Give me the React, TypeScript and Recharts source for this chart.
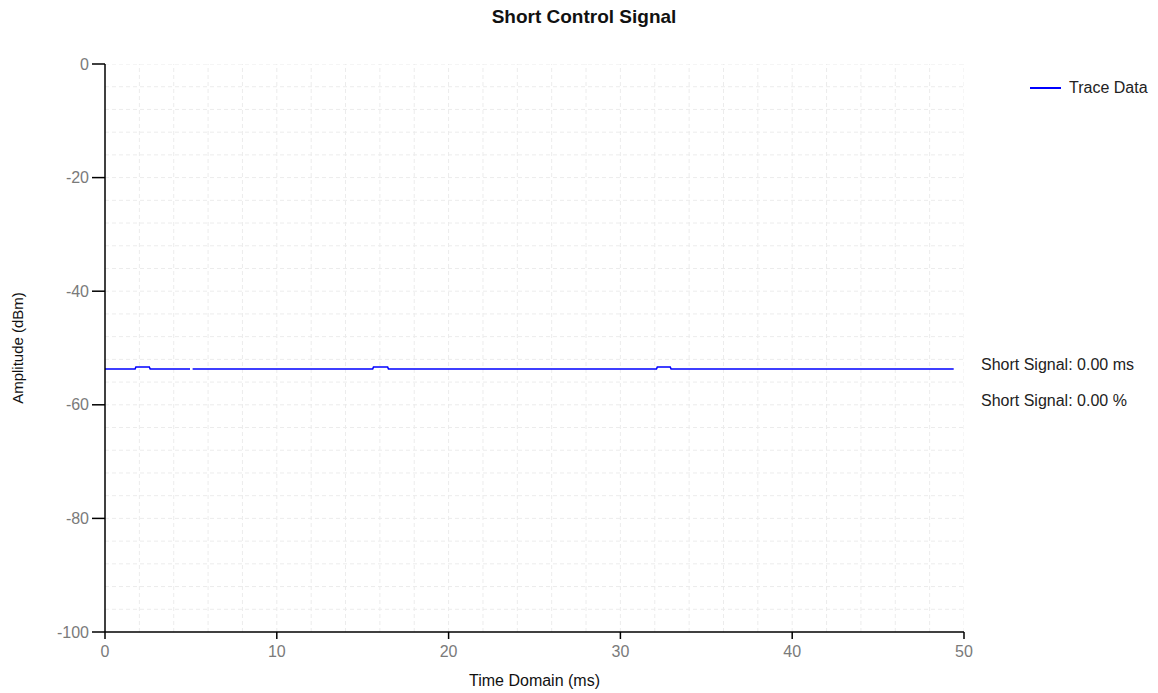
import React from 'react';
import {
  LineChart,
  Line,
  XAxis,
  YAxis,
  ReferenceLine
} from 'recharts';

// trace samples (ms, dBm); null = small gap in the trace
const TIME = [0, 1.75, 1.8, 2.58, 2.63, 4.95, 5.0, 5.1, 15.58, 15.63, 16.45, 16.5, 32.1, 32.15, 32.9, 32.95, 49.4];
const AMP: (number | null)[] = [
  -53.7, -53.7, -53.35, -53.35, -53.7, -53.7, null, -53.7,
  -53.7, -53.35, -53.35, -53.7, -53.7, -53.35, -53.35, -53.7, -53.7
];

const X_TICKS = [0, 10, 20, 30, 40, 50];
const Y_TICKS = [0, -20, -40, -60, -80, -100];
const X_GRID = [2, 4, 6, 8, 10, 12, 14, 16, 18, 20, 22, 24, 26, 28, 30, 32, 34, 36, 38, 40, 42, 44, 46, 48, 50];
const Y_GRID = [0, -4, -8, -12, -16, -20, -24, -28, -32, -36, -40, -44, -48, -52, -56, -60, -64, -68, -72, -76, -80, -84, -88, -92, -96];

const NOTES = ['Short Signal: 0.00 ms', 'Short Signal: 0.00 %'];

const DATA = TIME.map((t, i) => ({ t, amp: AMP[i] }));

const FONT = '"Liberation Sans", Arial, sans-serif';
const TICK_STYLE = { fill: '#7a7a7a', fontSize: 16, fontFamily: FONT };

const App: React.FC = () => {
  return (
    <div style={{ position: 'absolute', left: 0, top: 0, width: 1158, height: 693, background: '#fff', fontFamily: FONT }}>
      <div style={{ position: 'absolute', top: 6, left: 0, width: 1168, textAlign: 'center', fontWeight: 'bold', fontSize: 19, color: '#111' }}>
        Short Control Signal
      </div>

      <LineChart width={1158} height={693} data={DATA} margin={{ top: 64, right: 194, left: 45, bottom: 21 }}>
        {X_GRID.map((v) => (
          <ReferenceLine key={'gx' + v} x={v} stroke="#ececec" strokeDasharray="4 3" ifOverflow="hidden" />
        ))}
        {Y_GRID.map((v) => (
          <ReferenceLine key={'gy' + v} y={v} stroke="#ececec" strokeDasharray="4 3" ifOverflow="hidden" />
        ))}
        <XAxis
          dataKey="t"
          type="number"
          domain={[0, 50]}
          ticks={X_TICKS}
          allowDataOverflow
          height={40}
          stroke="#000"
          strokeWidth={1.5}
          tickSize={7}
          tick={TICK_STYLE}
          tickMargin={7}
          label={{ value: 'Time Domain (ms)', position: 'insideBottom', offset: -14, style: { fill: '#111', fontSize: 16, fontFamily: FONT } }}
        />
        <YAxis
          type="number"
          domain={[-100, 0]}
          ticks={Y_TICKS}
          allowDataOverflow
          width={60}
          stroke="#000"
          strokeWidth={1.5}
          tickSize={13}
          tick={TICK_STYLE}
          tickMargin={3}
          label={{ value: 'Amplitude (dBm)', angle: -90, position: 'insideLeft', offset: -27, style: { fill: '#111', fontSize: 15, fontFamily: FONT, textAnchor: 'middle' } }}
        />
        <Line
          type="linear"
          dataKey="amp"
          name="Trace Data"
          stroke="#0000ff"
          strokeWidth={1.6}
          dot={false}
          activeDot={false}
          connectNulls={false}
          isAnimationActive={false}
        />
      </LineChart>

      <div style={{ position: 'absolute', left: 1030, top: 79, display: 'flex', alignItems: 'center', fontSize: 16, color: '#222' }}>
        <span style={{ display: 'inline-block', width: 31, height: 2, background: '#0000ff', marginRight: 8 }} />
        <span>Trace Data</span>
      </div>

      {NOTES.map((n, i) => (
        <div key={n} style={{ position: 'absolute', left: 981, top: 356 + i * 36, fontSize: 16, color: '#222' }}>
          {n}
        </div>
      ))}
    </div>
  );
};

export default App;
